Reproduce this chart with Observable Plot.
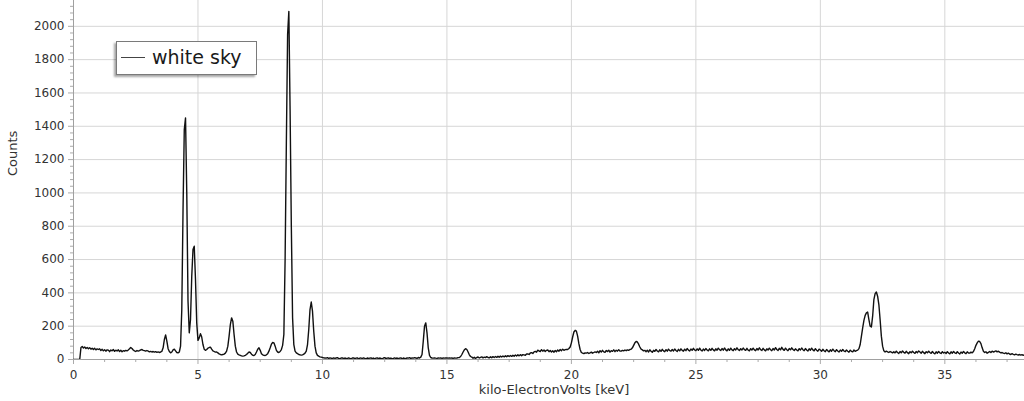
<!DOCTYPE html>
<html><head><meta charset="utf-8">
<script src="https://cdn.jsdelivr.net/npm/d3@7"></script>
<script src="https://cdn.jsdelivr.net/npm/@observablehq/plot@0.6"></script>
<style>
html,body{margin:0;padding:0;background:#fff;}
#wrap{position:relative;width:1024px;height:401px;overflow:hidden;}
#legend{position:absolute;left:116px;top:41px;width:141px;height:34px;box-sizing:border-box;border:1px solid #7a7a7a;background:#fff;box-shadow:-2px 2px 2px rgba(0,0,0,0.35);font-family:"DejaVu Sans";font-size:19px;color:#1a1a1a;}
#legend .sw{position:absolute;left:4px;top:15px;width:24px;height:0;border-top:1px solid #444;}
#legend .tx{position:absolute;left:35px;top:4px;white-space:nowrap;}
</style></head><body><div id="wrap"></div>
<script>
const seriesName = "white sky";
const xLabel = "kilo-ElectronVolts [keV]";
const yLabel = "Counts";
const keVStart = 0, keVPerChannel = 0.05;
// counts per channel, one row per keV
const counts = [
0,0,0,0,0,0,72,78,69,75,66,72,64,71,62,68,60,67,58,64,
60,64,54,61,52,59,50,58,56,47,57,52,60,49,56,51,58,48,55,47,
53,50,55,52,57,64,72,66,57,52,48,54,50,53,58,60,55,53,50,54,
50,46,49,45,48,44,47,43,46,42,45,49,70,120,148,110,65,48,40,45,
58,62,52,42,40,45,80,300,900,1380,1450,1000,350,160,240,500,660,680,480,220,
115,130,155,135,90,62,55,60,68,72,74,62,52,48,44,45,40,34,30,28,
30,32,38,50,80,140,210,250,230,150,80,45,32,28,25,22,20,22,25,30,
38,45,42,32,25,24,30,45,62,70,55,35,28,25,24,28,35,50,70,92,
102,100,80,55,45,42,48,60,85,150,600,1300,1950,2090,1500,800,250,90,50,40,
35,30,28,26,28,32,38,50,90,180,300,345,290,170,80,40,25,20,16,14,
12,10,9,8,11,6,10,8,5,10,7,9,11,6,5,9,10,5,9,7,
5,10,7,4,9,10,5,8,10,4,8,9,5,10,7,4,9,6,8,10,
5,9,4,8,10,5,9,7,4,9,11,5,8,10,5,9,4,7,10,6,
9,5,8,10,4,9,7,5,10,8,11,6,10,8,11,9,7,12,9,14,
30,110,200,220,160,70,25,12,9,8,10,8,7,9,8,10,7,9,8,10,
9,8,10,8,9,7,10,8,9,11,12,18,30,45,58,65,60,45,28,18,
14,8,13,7,12,15,9,13,16,10,14,11,17,12,10,16,11,17,12,18,
13,19,14,20,15,21,16,22,17,23,18,24,19,25,20,27,21,28,22,29,
23,29,28,25,33,34,30,39,41,36,46,49,44,56,51,48,59,50,57,48,
55,57,47,54,45,52,44,54,47,57,50,60,53,62,55,59,61,60,66,75,
100,135,165,175,170,140,95,60,42,38,35,40,38,42,36,40,44,38,42,46,
42,50,40,53,45,55,46,43,54,48,56,44,53,49,58,47,56,50,59,51,
50,55,52,57,53,58,55,60,62,70,85,100,108,105,92,75,62,58,52,55,
47,56,45,58,50,43,55,49,60,51,46,58,49,61,52,47,59,50,62,53,
50,60,51,63,54,48,61,52,64,55,50,62,53,66,56,51,63,55,67,57,
53,64,55,68,57,51,63,54,66,57,52,64,55,67,58,52,64,56,68,59,
54,66,56,69,58,52,64,55,68,58,53,65,57,70,59,54,65,57,69,59,
55,67,56,52,65,57,68,58,53,66,57,70,59,54,67,58,52,64,57,68,
59,53,66,57,71,60,54,67,58,73,61,55,68,59,53,66,58,70,60,54,
64,57,52,65,57,69,59,53,66,57,51,64,56,68,58,52,65,56,50,62,
57,49,61,53,47,60,52,46,58,50,62,53,47,59,51,45,57,49,60,51,
47,57,50,44,56,49,46,57,49,53,56,65,90,140,190,235,265,280,285,240,
200,195,260,360,395,405,380,330,240,140,80,52,45,50,46,42,48,44,40,46,
40,50,42,36,48,40,51,43,38,49,41,35,47,40,50,42,37,48,41,51,
45,38,49,41,35,47,40,50,42,37,48,39,34,46,38,48,40,36,47,39,
43,36,47,39,34,46,38,48,40,36,47,39,33,45,38,48,40,35,46,39,
38,44,40,48,65,85,100,110,108,95,70,50,42,46,38,43,48,42,50,45,
48,52,46,50,44,40,42,38,36,40,34,38,33,30,35,31,28,32,29,27,
30,26,29,25,28
];
const xTicks = [0,5,10,15,20,25,30,35];
const xMinorTicks = [1.25,2.5,3.75,6.25,7.5,8.75,11.25,12.5,13.75,16.25,17.5,18.75,21.25,22.5,23.75,26.25,27.5,28.75,31.25,32.5,33.75,36.25,37.5];
const yTicks = [0,200,400,600,800,1000,1200,1400,1600,1800,2000];
const yMinorTicks = [40,80,120,160,240,280,320,360,440,480,520,560,640,680,720,760,840,880,920,960,1040,1080,1120,1160,1240,1280,1320,1360,1440,1480,1520,1560,1640,1680,1720,1760,1840,1880,1920,1960,2040,2080,2120];

const data = counts.map((c, i) => ({keV: keVStart + i * keVPerChannel, count: c}));
const plain = d => String(d);

const chart = Plot.plot({
  width: 1024, height: 401,
  marginLeft: 73, marginRight: 0, marginTop: 0, marginBottom: 42,
  style: {fontFamily: "DejaVu Sans", fontSize: "12px", color: "#333", background: "#fff"},
  x: {domain: [0, 38.2]},
  y: {domain: [0, 2155]},
  marks: [
    Plot.gridX(xTicks.filter(d => d > 0), {stroke: "#d6d6d6", strokeOpacity: 1}),
    Plot.gridY(yTicks.filter(d => d > 0), {stroke: "#d6d6d6", strokeOpacity: 1}),
    Plot.axisX(xMinorTicks, {tickSize: 3, text: null, stroke: "#aaa", label: null}),
    Plot.axisX(xTicks, {tickSize: 5, tickPadding: 6, tickFormat: plain, stroke: "#aaa", fill: "#333", label: null}),
    Plot.axisY(yMinorTicks, {tickSize: 3, text: null, stroke: "#aaa", label: null}),
    Plot.axisY(yTicks, {tickSize: 5, tickPadding: 4, tickFormat: plain, stroke: "#aaa", fill: "#333", label: null}),
    Plot.ruleY([0], {stroke: "#a0a0a0"}),
    Plot.ruleX([0], {stroke: "#a0a0a0"}),
    Plot.line(data, {x: "keV", y: "count", stroke: "#111", strokeWidth: 1.4, clip: true}),
    Plot.text([xLabel], {text: d => d, frameAnchor: "bottom", dy: 34, dx: 5, fontSize: 13, fill: "#333"}),
    Plot.text([yLabel], {text: d => d, frameAnchor: "left", dx: -61, dy: -4, rotate: -90, fontSize: 13, fill: "#333"})
  ]
});
const wrap = document.getElementById("wrap");
wrap.appendChild(chart);
const lg = document.createElement("div");
lg.id = "legend";
lg.innerHTML = '<div class="sw"></div><div class="tx"></div>';
lg.querySelector(".tx").textContent = seriesName;
wrap.appendChild(lg);
</script>
</body></html>
